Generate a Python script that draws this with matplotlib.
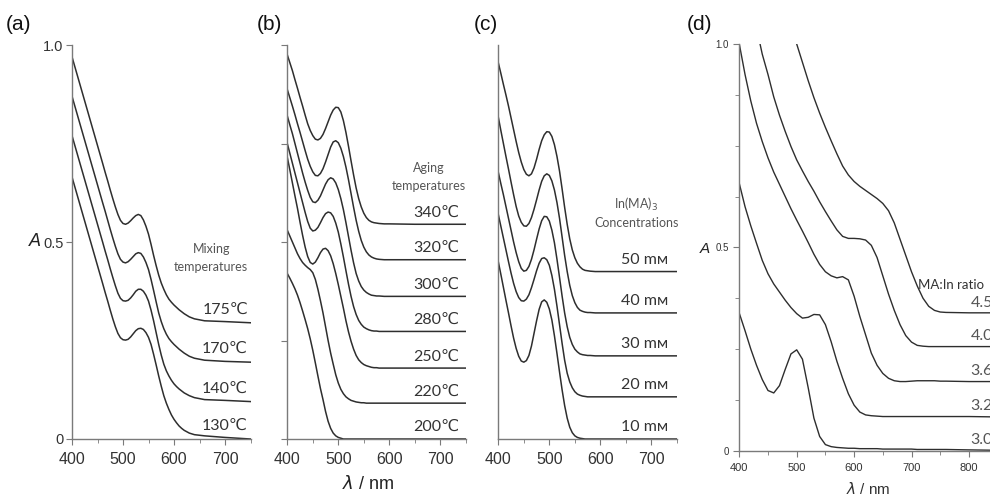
import matplotlib.pyplot as plt
from matplotlib.ticker import MultipleLocator

# ---- (a) mixing temperatures ----
wl_a = [400, 410, 420, 430, 440, 450,
        460, 465, 470, 475, 480, 485, 490, 495, 500, 505, 510, 515, 520, 525, 530, 535, 540,
        545, 550, 555, 560, 565, 570, 575, 580, 585, 590, 595, 600, 605, 610, 615, 620,
        630, 640, 660, 700, 750]
a_175 = [0.97, 0.925, 0.88, 0.835, 0.79, 0.745,
         0.70, 0.677, 0.655, 0.632, 0.61, 0.589, 0.57, 0.555, 0.547, 0.545, 0.548, 0.554, 0.561,
         0.567, 0.57, 0.567, 0.556, 0.54, 0.52, 0.494, 0.466, 0.44, 0.416, 0.396, 0.38, 0.366,
         0.355, 0.347, 0.34, 0.334, 0.328, 0.323, 0.318,
         0.31, 0.305, 0.30, 0.298, 0.295]
a_170 = [0.87, 0.825, 0.78, 0.735, 0.69, 0.645,
         0.60, 0.578, 0.555, 0.532, 0.51, 0.489, 0.47, 0.456, 0.449, 0.447, 0.45, 0.456, 0.463,
         0.47, 0.473, 0.471, 0.462, 0.448, 0.43, 0.405, 0.377, 0.348, 0.32, 0.298, 0.28, 0.266,
         0.255, 0.247, 0.24, 0.234, 0.228, 0.223, 0.218,
         0.21, 0.205, 0.20, 0.197, 0.195]
a_140 = [0.77, 0.725, 0.68, 0.635, 0.59, 0.545,
         0.50, 0.477, 0.455, 0.432, 0.41, 0.389, 0.37, 0.357, 0.351, 0.35, 0.352, 0.358, 0.366,
         0.375, 0.38, 0.38, 0.375, 0.365, 0.35, 0.327, 0.30, 0.27, 0.24, 0.213, 0.19, 0.173,
         0.16, 0.149, 0.14, 0.133, 0.127, 0.122, 0.117,
         0.11, 0.105, 0.10, 0.098, 0.095]
a_130 = [0.665, 0.62, 0.575, 0.53, 0.485, 0.44,
         0.395, 0.372, 0.35, 0.327, 0.305, 0.285, 0.268, 0.257, 0.252, 0.251, 0.253, 0.259, 0.267,
         0.275, 0.28, 0.281, 0.278, 0.27, 0.258, 0.24, 0.215, 0.188, 0.16, 0.134, 0.11, 0.091,
         0.075, 0.061, 0.05, 0.041, 0.033, 0.027, 0.022,
         0.015, 0.011, 0.008, 0.004, 0.0]
labels_a = ["175℃", "170℃", "140℃", "130℃"]
base_a = [0.295, 0.195, 0.095, 0.0]

# ---- (b) aging temperatures ----
wl_b = [400, 405, 410, 415, 420, 425, 430, 435, 440, 445, 450, 455, 460, 465, 470, 475, 480,
        485, 490, 495, 500, 505, 510, 515, 520, 525, 530, 535, 540, 545, 550, 555, 560, 565,
        570, 575, 580, 590, 600, 650, 700, 750]
b_340 = [0.975, 0.955, 0.935, 0.912, 0.89, 0.867, 0.845, 0.822, 0.80, 0.783, 0.77, 0.761, 0.759,
         0.763, 0.773, 0.788, 0.805, 0.822, 0.835, 0.842, 0.841, 0.83, 0.808, 0.778, 0.743, 0.706,
         0.67, 0.637, 0.61, 0.589, 0.573, 0.562, 0.555, 0.551, 0.549, 0.548, 0.547,
         0.546, 0.546, 0.545, 0.545, 0.545]
b_320 = [0.887, 0.866, 0.845, 0.823, 0.80, 0.778, 0.755, 0.732, 0.71, 0.692, 0.678, 0.669, 0.668,
         0.674, 0.686, 0.703, 0.722, 0.741, 0.754, 0.757, 0.752, 0.738, 0.717, 0.69, 0.658, 0.623,
         0.588, 0.555, 0.527, 0.504, 0.487, 0.475, 0.467, 0.462, 0.459, 0.457, 0.456,
         0.455, 0.455, 0.455, 0.455, 0.455]
b_300 = [0.82, 0.797, 0.775, 0.75, 0.725, 0.70, 0.675, 0.652, 0.631, 0.613, 0.602, 0.60, 0.606,
         0.617, 0.632, 0.647, 0.658, 0.663, 0.66, 0.65, 0.633, 0.61, 0.582, 0.549, 0.514, 0.479,
         0.447, 0.42, 0.401, 0.387, 0.378, 0.372, 0.368, 0.365, 0.364, 0.363, 0.363,
         0.362, 0.362, 0.362, 0.362, 0.362]
b_280 = [0.75, 0.725, 0.70, 0.675, 0.65, 0.625, 0.60, 0.575, 0.552, 0.535, 0.528, 0.53, 0.537,
         0.549, 0.562, 0.572, 0.576, 0.574, 0.565, 0.548, 0.525, 0.495, 0.462, 0.427, 0.393, 0.362,
         0.336, 0.316, 0.301, 0.291, 0.284, 0.28, 0.277, 0.275, 0.274, 0.274, 0.273,
         0.273, 0.273, 0.273, 0.273, 0.273]
b_250 = [0.715, 0.683, 0.65, 0.617, 0.585, 0.55, 0.517, 0.487, 0.463, 0.448, 0.444, 0.449, 0.46,
         0.473, 0.482, 0.484, 0.478, 0.465, 0.445, 0.42, 0.392, 0.362, 0.332, 0.30, 0.272, 0.248,
         0.228, 0.212, 0.201, 0.194, 0.189, 0.186, 0.184, 0.182, 0.181, 0.181, 0.18,
         0.18, 0.18, 0.18, 0.18, 0.18]
b_220 = [0.53, 0.515, 0.50, 0.485, 0.47, 0.458, 0.448, 0.441, 0.435, 0.43, 0.422, 0.405, 0.38,
         0.351, 0.32, 0.285, 0.25, 0.218, 0.19, 0.163, 0.142, 0.126, 0.115, 0.107, 0.102, 0.098,
         0.096, 0.094, 0.093, 0.092, 0.092, 0.091, 0.091, 0.091, 0.091, 0.091, 0.091,
         0.091, 0.091, 0.091, 0.091, 0.091]
b_200 = [0.42, 0.408, 0.395, 0.381, 0.365, 0.346, 0.325, 0.303, 0.28, 0.254, 0.225, 0.193, 0.16,
         0.128, 0.10, 0.07, 0.045, 0.027, 0.015, 0.008, 0.004, 0.002, 0.0, 0.0, 0.0, 0.0,
         0.0, 0.0, 0.0, 0.0, 0.0, 0.0, 0.0, 0.0, 0.0, 0.0, 0.0,
         0.0, 0.0, 0.0, 0.0, 0.0]
labels_b = ["340℃", "320℃", "300℃", "280℃", "250℃", "220℃", "200℃"]
base_b = [0.545, 0.455, 0.362, 0.273, 0.18, 0.091, 0.0]

# ---- (c) In(MA)3 concentrations ----
wl_c = wl_b
c_50 = [0.955, 0.928, 0.90, 0.873, 0.845, 0.815, 0.785, 0.755, 0.727, 0.703, 0.684, 0.672, 0.668,
        0.673, 0.688, 0.71, 0.735, 0.757, 0.772, 0.78, 0.779, 0.768, 0.747, 0.717, 0.68, 0.635,
        0.588, 0.545, 0.508, 0.48, 0.46, 0.446, 0.437, 0.431, 0.428, 0.427, 0.426,
        0.425, 0.425, 0.425, 0.425, 0.425]
c_40 = [0.817, 0.783, 0.75, 0.717, 0.685, 0.652, 0.62, 0.59, 0.566, 0.55, 0.541, 0.54, 0.547,
        0.562, 0.583, 0.607, 0.632, 0.654, 0.668, 0.673, 0.669, 0.655, 0.632, 0.60, 0.56, 0.513,
        0.466, 0.425, 0.39, 0.364, 0.346, 0.334, 0.327, 0.324, 0.322, 0.321, 0.321,
        0.32, 0.32, 0.32, 0.32, 0.32]
c_30 = [0.677, 0.648, 0.62, 0.59, 0.56, 0.53, 0.50, 0.473, 0.45, 0.433, 0.426, 0.428, 0.438,
        0.456, 0.48, 0.507, 0.533, 0.554, 0.565, 0.564, 0.553, 0.53, 0.498, 0.456, 0.41, 0.363,
        0.32, 0.285, 0.258, 0.24, 0.228, 0.221, 0.216, 0.214, 0.213, 0.212, 0.212,
        0.211, 0.211, 0.211, 0.211, 0.211]
c_20 = [0.57, 0.54, 0.51, 0.48, 0.45, 0.421, 0.395, 0.374, 0.359, 0.351, 0.35, 0.355, 0.366,
        0.384, 0.405, 0.427, 0.446, 0.458, 0.46, 0.455, 0.441, 0.415, 0.38, 0.337, 0.29, 0.243,
        0.20, 0.167, 0.145, 0.13, 0.12, 0.114, 0.111, 0.109, 0.108, 0.107, 0.107,
        0.107, 0.107, 0.107, 0.107, 0.107]
c_10 = [0.45, 0.418, 0.385, 0.352, 0.32, 0.287, 0.256, 0.23, 0.21, 0.198, 0.195, 0.199, 0.212,
        0.236, 0.268, 0.30, 0.329, 0.348, 0.353, 0.347, 0.33, 0.302, 0.262, 0.217, 0.17, 0.125,
        0.085, 0.053, 0.03, 0.016, 0.008, 0.004, 0.002, 0.001, 0.0, 0.0, 0.0,
        0.0, 0.0, 0.0, 0.0, 0.0]
labels_c = ["50 mᴍ", "40 mᴍ", "30 mᴍ", "20 mᴍ", "10 mᴍ"]
base_c = [0.425, 0.32, 0.211, 0.107, 0.0]

# ---- (d) MA:In ratio ----
wl_d = [400, 410, 420, 430, 440, 450, 460, 470, 480, 490, 500, 510, 520, 530, 540, 550, 560, 570,
        580, 590, 600, 610, 620, 630, 640, 650, 660, 670, 680, 690, 700, 710, 720, 730, 740, 750,
        760, 800, 850, 900]
d_30 = [0.338, 0.295, 0.25, 0.21, 0.175, 0.148, 0.142, 0.16, 0.2, 0.238, 0.248, 0.225, 0.155, 0.08,
        0.035, 0.015, 0.01, 0.008, 0.007, 0.006, 0.006, 0.005, 0.005, 0.005, 0.005, 0.004, 0.004,
        0.004, 0.004, 0.004, 0.004, 0.003, 0.003, 0.003, 0.003, 0.003, 0.003, 0.002, 0.001, 0.0]
d_32 = [0.657, 0.60, 0.553, 0.51, 0.468, 0.435, 0.41, 0.39, 0.37, 0.352, 0.337, 0.326, 0.328, 0.335,
        0.334, 0.31, 0.268, 0.22, 0.178, 0.14, 0.112, 0.095, 0.088, 0.086, 0.085, 0.084, 0.084,
        0.084, 0.084, 0.084, 0.084, 0.084, 0.084, 0.084, 0.084, 0.084, 0.084, 0.084, 0.083, 0.083]
d_36 = [1.0, 0.925, 0.86, 0.805, 0.76, 0.72, 0.685, 0.655, 0.625, 0.595, 0.567, 0.54, 0.512, 0.483,
        0.458, 0.44, 0.43, 0.425, 0.428, 0.42, 0.38, 0.33, 0.285, 0.24, 0.21, 0.19, 0.178, 0.172,
        0.17, 0.17, 0.171, 0.172, 0.172, 0.172, 0.172, 0.171, 0.171, 0.17, 0.17, 0.17]
d_40 = [1.04, 0.975, 0.925, 0.87, 0.825, 0.785, 0.748, 0.715, 0.688, 0.662, 0.638, 0.612, 0.588,
        0.565, 0.543, 0.527, 0.522, 0.522, 0.521, 0.518, 0.505, 0.475, 0.43, 0.385, 0.345, 0.31,
        0.283, 0.267, 0.259, 0.257, 0.256, 0.256, 0.256, 0.256, 0.256, 0.256, 0.256]
d_45 = [1.05, 1.0, 0.955, 0.91, 0.868, 0.83, 0.795, 0.762, 0.73, 0.70, 0.678, 0.662, 0.65, 0.64,
        0.63, 0.62, 0.608, 0.59, 0.56, 0.52, 0.48, 0.44, 0.405, 0.375, 0.355, 0.345, 0.341, 0.34,
        0.339, 0.339, 0.339]
labels_d = ["4.5", "4.0", "3.6", "3.2", "3.0"]
base_d = [0.339, 0.256, 0.17, 0.084, 0.0]

W, H = 990, 496
LINE = "#2e2e2e"
GREY = "#555555"
SPINE = "#7a7a7a"
CAL = ["Lato", "DejaVu Sans"]
ARIAL = ["Liberation Sans", "DejaVu Sans"]


def box(x0, x1, ytop, ybot):
    return [x0 / W, 1 - ybot / H, (x1 - x0) / W, (ybot - ytop) / H]


def style(ax, tick_size):
    for s in ["top", "right"]:
        ax.spines[s].set_visible(False)
    for s in ["left", "bottom"]:
        ax.spines[s].set_color(SPINE)
        ax.spines[s].set_linewidth(1.0)
    ax.tick_params(which="both", direction="out", color=SPINE, labelcolor="#333333",
                   labelsize=tick_size)
    ax.tick_params(which="major", length=4)
    ax.tick_params(which="minor", length=3)
    ax.tick_params(axis="x", pad=5)
    for lab in ax.get_xticklabels() + ax.get_yticklabels():
        lab.set_family(ARIAL)


fig = plt.figure(figsize=(W / 100, H / 100), dpi=100)

# panel (a)
ax = fig.add_axes(box(72, 250.5, 45, 439))
for y in [a_175, a_170, a_140, a_130]:
    ax.plot(wl_a, y, color=LINE, lw=1.1)
ax.set_xlim(400, 750)
ax.set_ylim(0, 1)
ax.set_xticks([400, 500, 600, 700])
ax.xaxis.set_minor_locator(MultipleLocator(50))
ax.set_yticks([0, 0.5, 1.0])
ax.set_yticklabels(["0", "0.5", "1.0"])
style(ax, 11.5)
ax.tick_params(axis="y", labelsize=10.5, pad=2)
for lab, b in zip(labels_a, base_a):
    ax.text(745, b + 0.015, lab, ha="right", va="bottom", fontsize=11.5, color="#333333", family=CAL)
ax.text(673, 0.46, "Mixing\ntemperatures", ha="center", va="center", fontsize=9,
        color=GREY, family=CAL, linespacing=1.55)

# panel (b)
ax = fig.add_axes(box(287.3, 465.8, 45, 439))
for y in [b_340, b_320, b_300, b_280, b_250, b_220, b_200]:
    ax.plot(wl_b, y, color=LINE, lw=1.1)
ax.set_xlim(400, 750)
ax.set_ylim(0, 1)
ax.set_xticks([400, 500, 600, 700])
ax.xaxis.set_minor_locator(MultipleLocator(50))
ax.set_yticks([0, 0.25, 0.5, 0.75, 1.0])
ax.set_yticklabels([])
style(ax, 11.5)
for lab, b in zip(labels_b, base_b):
    ax.text(737, b + 0.012, lab, ha="right", va="bottom", fontsize=11.5, color="#333333", family=CAL)
ax.text(678, 0.665, "Aging\ntemperatures", ha="center", va="center", fontsize=9,
        color=GREY, family=CAL, linespacing=1.55)

# panel (c)
ax = fig.add_axes(box(498.3, 676.9, 45, 439))
for y in [c_50, c_40, c_30, c_20, c_10]:
    ax.plot(wl_c, y, color=LINE, lw=1.1)
ax.set_xlim(400, 750)
ax.set_ylim(0, 1)
ax.set_xticks([400, 500, 600, 700])
ax.xaxis.set_minor_locator(MultipleLocator(50))
ax.set_yticks([])
style(ax, 11.5)
for lab, b in zip(labels_c, base_c):
    ax.text(733, b + 0.012, lab, ha="right", va="bottom", fontsize=11.5, color="#333333", family=CAL)
ax.text(671, 0.575, "In(MA)$_3$\nConcentrations", ha="center", va="center", fontsize=9,
        color=GREY, family=CAL, linespacing=1.35)

# panel (d)
ax = fig.add_axes(box(739.3, 1026.3, 44, 450.7))
ax.plot(wl_d, d_30, color=LINE, lw=1.0)
ax.plot(wl_d, d_32, color=LINE, lw=1.0)
ax.plot(wl_d, d_36, color=LINE, lw=1.0)
ax.plot(wl_d[3:], d_40, color=LINE, lw=1.0)
ax.plot(wl_d[9:], d_45, color=LINE, lw=1.0)
ax.set_xlim(400, 900)
ax.set_ylim(0, 1)
ax.set_xticks([400, 500, 600, 700, 800, 900])
ax.xaxis.set_minor_locator(MultipleLocator(50))
ax.set_yticks([0, 0.5, 1.0])
ax.set_yticklabels(["0", "0.5", "1.0"])
ax.yaxis.set_minor_locator(MultipleLocator(0.125))
style(ax, 8)
ax.tick_params(axis="y", labelsize=7)
ax.text(711, 0.407, "MA:In ratio", ha="left", va="center", fontsize=9.5, color="#333333", family=CAL)
for lab, b in zip(labels_d, base_d):
    ax.text(803, b + 0.008, lab, ha="left", va="bottom", fontsize=11.5, color=GREY, family=CAL)

# axis titles and panel letters
fig.text(35 / W, 1 - 242 / H, "A", fontsize=13, style="italic", color="#222222",
         family=ARIAL, ha="center", va="center")
fig.text(705 / W, 1 - 249 / H, "A", fontsize=11, style="italic", color="#222222",
         family=ARIAL, ha="center", va="center")
fig.text(368 / W, 1 - 484 / H, r"$\lambda$ / nm", fontsize=13, color="#222222",
         family=ARIAL, ha="center", va="center")
fig.text(868 / W, 1 - 489 / H, r"$\lambda$ / nm", fontsize=11, color="#333333",
         family=ARIAL, ha="center", va="center")
for x, t in [(6, "(a)"), (257, "(b)"), (474, "(c)"), (687, "(d)")]:
    fig.text(x / W, 1 - 24 / H, t, fontsize=15, color="#111111", family=ARIAL,
             ha="left", va="center")

fig.savefig("out.png", dpi=100)
